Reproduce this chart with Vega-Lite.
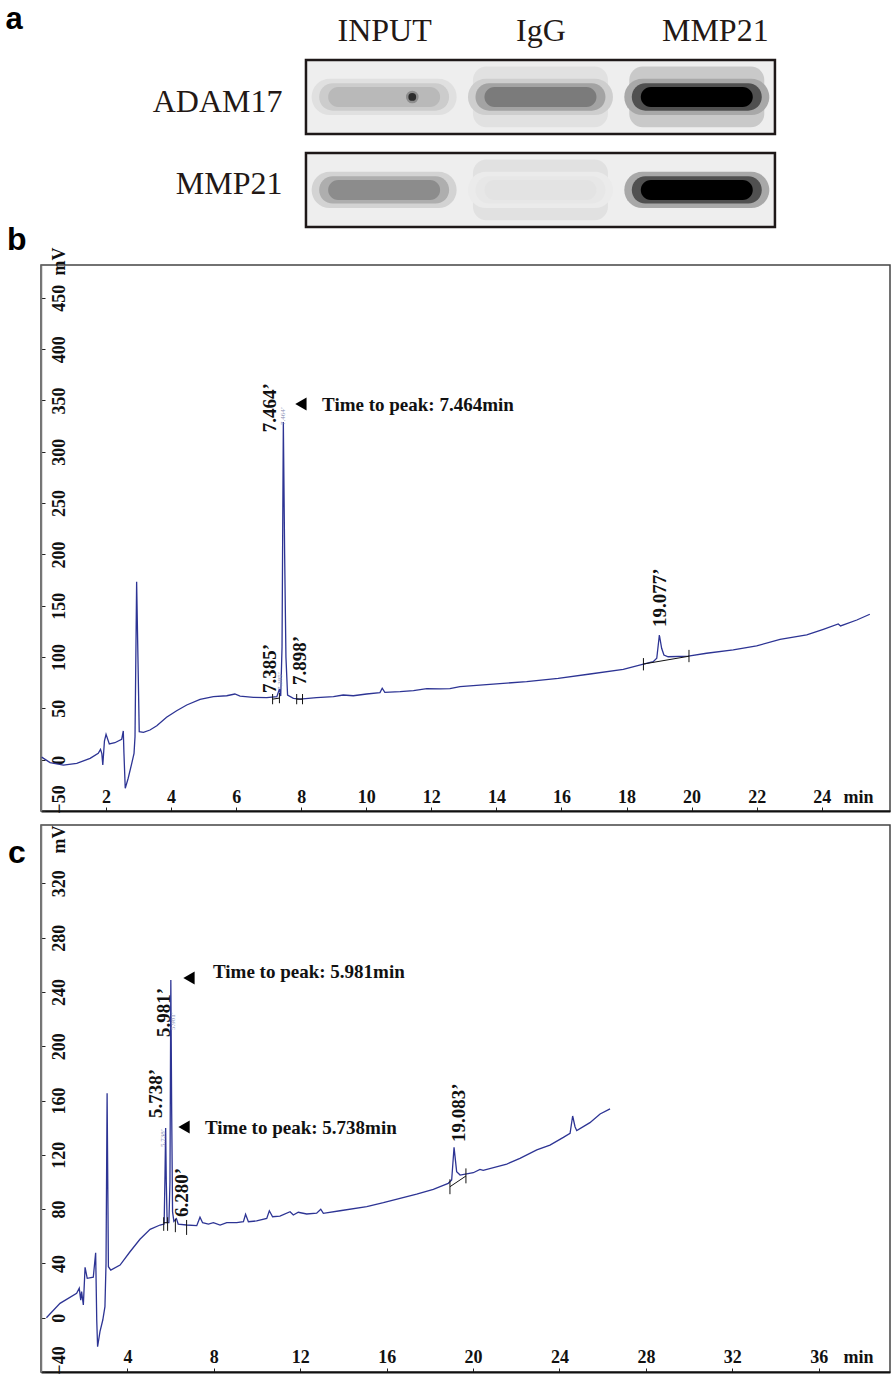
{
  "$schema": "https://vega.github.io/schema/vega-lite/v6.json",
  "padding": {"left": 5, "top": 0, "right": 4, "bottom": 1},
  "background": "white",
  "bounds": "flush",
  "spacing": 14,
  "resolve": {"scale": {"x": "independent", "y": "independent"}},
  "config": {
    "view": {"stroke": "#444444", "strokeWidth": 1.5},
    "axis": {"grid": false, "labelOverlap": false, "labelFlush": false, "labelFont": "Liberation Serif", "labelFontWeight": "bold", "labelFontSize": 18, "labelColor": "#111111", "titleFont": "Liberation Serif", "titleFontWeight": "bold", "titleFontSize": 18, "titleColor": "#111111", "tickColor": "#222222", "tickWidth": 1}
  },
  "datasets": {
    "blot_boxes": [{"protein": "ADAM17"}, {"protein": "MMP21"}],
    "blot_haze": [
      {"protein": "ADAM17", "lane": 3, "intensity": 0.14},
      {"protein": "ADAM17", "lane": 2, "intensity": 0.05},
      {"protein": "MMP21", "lane": 2, "intensity": 0.05}
    ],
    "blot_bands": [
      {"protein": "ADAM17", "lane": 1, "intensity": 0.2},
      {"protein": "ADAM17", "lane": 2, "intensity": 0.45},
      {"protein": "ADAM17", "lane": 3, "intensity": 1.0},
      {"protein": "MMP21", "lane": 1, "intensity": 0.38},
      {"protein": "MMP21", "lane": 2, "intensity": 0.04},
      {"protein": "MMP21", "lane": 3, "intensity": 1.0}
    ],
    "blot_spots": [{"protein": "ADAM17", "lane": 1.18, "intensity": 0.9}],
    "b_trace": [
      {"t": 0.02, "v": 2.5}, {"t": 0.28, "v": -2.9}, {"t": 0.69, "v": -5.2}, {"t": 1.1, "v": -3.5}, {"t": 1.51, "v": 1.3},
      {"t": 1.76, "v": 6.2}, {"t": 1.83, "v": 10.1}, {"t": 1.87, "v": 6}, {"t": 1.9, "v": -5.2}, {"t": 1.95, "v": 18},
      {"t": 2.0, "v": 24.7}, {"t": 2.1, "v": 15.3}, {"t": 2.27, "v": 16.5}, {"t": 2.48, "v": 19.9}, {"t": 2.53, "v": 28},
      {"t": 2.55, "v": 6.2}, {"t": 2.59, "v": -27.9}, {"t": 2.68, "v": -18.1}, {"t": 2.79, "v": -3.5}, {"t": 2.86, "v": 6.2},
      {"t": 2.89, "v": 22.4}, {"t": 2.94, "v": 173.4}, {"t": 2.98, "v": 100}, {"t": 3.02, "v": 27.3}, {"t": 3.15, "v": 26.7},
      {"t": 3.35, "v": 28.9}, {"t": 3.56, "v": 33.1}, {"t": 3.86, "v": 41.3}, {"t": 4.17, "v": 47.7}, {"t": 4.48, "v": 53.3},
      {"t": 4.89, "v": 58.8}, {"t": 5.3, "v": 61.4}, {"t": 5.71, "v": 62.3}, {"t": 5.96, "v": 64}, {"t": 6.12, "v": 62},
      {"t": 6.53, "v": 60.8}, {"t": 6.94, "v": 60.4}, {"t": 7.25, "v": 61.4}, {"t": 7.33, "v": 69}, {"t": 7.37, "v": 62},
      {"t": 7.41, "v": 110}, {"t": 7.45, "v": 329}, {"t": 7.49, "v": 200}, {"t": 7.53, "v": 100}, {"t": 7.58, "v": 63},
      {"t": 7.76, "v": 59.8}, {"t": 7.96, "v": 59}, {"t": 8.47, "v": 60.4}, {"t": 8.99, "v": 61.4}, {"t": 9.29, "v": 63},
      {"t": 9.6, "v": 62.3}, {"t": 10.01, "v": 64}, {"t": 10.42, "v": 65.3}, {"t": 10.49, "v": 69.6}, {"t": 10.57, "v": 65.6},
      {"t": 11.04, "v": 66.3}, {"t": 11.45, "v": 67.3}, {"t": 11.86, "v": 69.2}, {"t": 12.27, "v": 68.9}, {"t": 12.57, "v": 69.2},
      {"t": 12.88, "v": 71.1}, {"t": 13.9, "v": 73.7}, {"t": 14.93, "v": 76}, {"t": 15.9, "v": 79.3}, {"t": 16.88, "v": 83.5},
      {"t": 17.9, "v": 88}, {"t": 18.52, "v": 93.2}, {"t": 18.82, "v": 95.5}, {"t": 18.93, "v": 98.8}, {"t": 19.01, "v": 121.5},
      {"t": 19.08, "v": 108.5}, {"t": 19.15, "v": 102}, {"t": 19.28, "v": 100.3}, {"t": 19.9, "v": 101}, {"t": 20.46, "v": 103.7},
      {"t": 21.28, "v": 106.9}, {"t": 22.0, "v": 110.8}, {"t": 22.72, "v": 117.3}, {"t": 23.54, "v": 121.5}, {"t": 24.05, "v": 127},
      {"t": 24.51, "v": 132.2}, {"t": 24.58, "v": 130.3}, {"t": 25.08, "v": 136.1}, {"t": 25.48, "v": 141.7}
    ],
    "b_segs": [
      {"t": 18.52, "v": 93.2, "t2": 19.92, "v2": 100.8},
      {"t": 18.52, "v": 87, "t2": 18.52, "v2": 99},
      {"t": 19.92, "v": 95, "t2": 19.92, "v2": 107},
      {"t": 7.12, "v": 59, "t2": 7.33, "v2": 60},
      {"t": 7.12, "v": 54, "t2": 7.12, "v2": 64},
      {"t": 7.33, "v": 55, "t2": 7.33, "v2": 65},
      {"t": 7.86, "v": 59, "t2": 8.04, "v2": 59},
      {"t": 7.86, "v": 54, "t2": 7.86, "v2": 64},
      {"t": 8.04, "v": 54, "t2": 8.04, "v2": 64}
    ],
    "b_peaks": [
      {"t": 7.04, "v": 319, "label": "7.464’"},
      {"t": 7.04, "v": 65, "label": "7.385’"},
      {"t": 7.96, "v": 72.8, "label": "7.898’"},
      {"t": 19.03, "v": 129.3, "label": "19.077’"}
    ],
    "b_tiny": [
      {"t": 7.44, "v": 326, "label": "7.464’"},
      {"t": 7.35, "v": 68, "label": "7.385’"}
    ],
    "b_notes": [{"t": 8.64, "v": 345.6, "label": "Time to peak: 7.464min"}],
    "b_arrows": [{"t": 7.99, "v": 346.6}],
    "b_panel": [{"t": -1.045, "v": 496.6, "label": "b"}],
    "c_trace": [
      {"t": 0.25, "v": 0}, {"t": 0.88, "v": 10.6}, {"t": 1.65, "v": 18}, {"t": 1.77, "v": 21.7}, {"t": 1.84, "v": 13},
      {"t": 1.88, "v": 19.2}, {"t": 1.96, "v": 9.4}, {"t": 2.04, "v": 37.1}, {"t": 2.14, "v": 29}, {"t": 2.42, "v": 29.8},
      {"t": 2.53, "v": 47.9}, {"t": 2.58, "v": -1.7}, {"t": 2.62, "v": -21.4}, {"t": 2.73, "v": -10.3}, {"t": 2.86, "v": -1.7},
      {"t": 2.96, "v": 8.1}, {"t": 3.01, "v": 40}, {"t": 3.06, "v": 165.3}, {"t": 3.12, "v": 37.6}, {"t": 3.23, "v": 35.1},
      {"t": 3.66, "v": 38.8}, {"t": 4.12, "v": 48.6}, {"t": 4.58, "v": 57.8}, {"t": 5.05, "v": 65.1}, {"t": 5.51, "v": 68.3},
      {"t": 5.7, "v": 69}, {"t": 5.74, "v": 105}, {"t": 5.77, "v": 139.8}, {"t": 5.8, "v": 100}, {"t": 5.84, "v": 70},
      {"t": 5.92, "v": 70}, {"t": 5.97, "v": 100}, {"t": 6.01, "v": 248.8}, {"t": 6.05, "v": 150}, {"t": 6.09, "v": 78},
      {"t": 6.15, "v": 71}, {"t": 6.27, "v": 73}, {"t": 6.35, "v": 69}, {"t": 6.74, "v": 68.3}, {"t": 7.21, "v": 67.8},
      {"t": 7.36, "v": 74}, {"t": 7.48, "v": 70}, {"t": 7.75, "v": 69}, {"t": 7.98, "v": 70}, {"t": 8.29, "v": 68.3},
      {"t": 8.6, "v": 70}, {"t": 9.06, "v": 70}, {"t": 9.37, "v": 70.7}, {"t": 9.47, "v": 76.2}, {"t": 9.6, "v": 70.7},
      {"t": 9.98, "v": 71.3}, {"t": 10.45, "v": 73.2}, {"t": 10.57, "v": 78.8}, {"t": 10.72, "v": 74.4}, {"t": 11.06, "v": 74.9},
      {"t": 11.53, "v": 78.1}, {"t": 11.68, "v": 75.7}, {"t": 11.91, "v": 77.7}, {"t": 12.3, "v": 76.4}, {"t": 12.76, "v": 77},
      {"t": 12.95, "v": 79.9}, {"t": 13.07, "v": 76.9}, {"t": 13.84, "v": 78.8}, {"t": 15.08, "v": 81.8}, {"t": 15.85, "v": 84.7},
      {"t": 16.62, "v": 88}, {"t": 17.39, "v": 91.1}, {"t": 18.16, "v": 94.6}, {"t": 18.62, "v": 97.5}, {"t": 18.85, "v": 99},
      {"t": 19.01, "v": 101.5}, {"t": 19.12, "v": 125.5}, {"t": 19.24, "v": 107.6}, {"t": 19.4, "v": 105.1}, {"t": 20.01, "v": 106.8},
      {"t": 20.32, "v": 109.3}, {"t": 20.47, "v": 108.5}, {"t": 21.56, "v": 113.2}, {"t": 22.17, "v": 117.4}, {"t": 22.95, "v": 123.6},
      {"t": 23.56, "v": 127.2}, {"t": 24.18, "v": 132.9}, {"t": 24.49, "v": 135.9}, {"t": 24.61, "v": 148.6}, {"t": 24.72, "v": 140.7},
      {"t": 24.8, "v": 137.8}, {"t": 25.41, "v": 143.7}, {"t": 25.88, "v": 150.1}, {"t": 26.34, "v": 153.8}
    ],
    "c_segs": [
      {"t": 18.93, "v": 96.5, "t2": 19.67, "v2": 104.4},
      {"t": 18.93, "v": 91, "t2": 18.93, "v2": 102},
      {"t": 19.67, "v": 99, "t2": 19.67, "v2": 110},
      {"t": 5.68, "v": 70, "t2": 5.86, "v2": 70},
      {"t": 5.68, "v": 64, "t2": 5.68, "v2": 74},
      {"t": 5.86, "v": 64, "t2": 5.86, "v2": 74},
      {"t": 6.22, "v": 63, "t2": 6.22, "v2": 73},
      {"t": 6.74, "v": 61, "t2": 6.74, "v2": 72}
    ],
    "c_peaks": [
      {"t": 5.69, "v": 206.8, "label": "5.981’"},
      {"t": 5.32, "v": 147.1, "label": "5.738’"},
      {"t": 6.53, "v": 74.2, "label": "6.280’"},
      {"t": 19.35, "v": 129.5, "label": "19.083’"}
    ],
    "c_tiny": [
      {"t": 6.1, "v": 212, "label": "5.981’"},
      {"t": 5.65, "v": 125.8, "label": "5.738’"}
    ],
    "c_notes": [
      {"t": 7.96, "v": 254.7, "label": "Time to peak: 5.981min"},
      {"t": 7.59, "v": 139.8, "label": "Time to peak: 5.738min"}
    ],
    "c_arrows": [{"t": 6.85, "v": 250.3}, {"t": 6.62, "v": 140.5}],
    "c_panel": [{"t": -1.528, "v": 335, "label": "c"}]
  },
  "vconcat": [
    {
      "width": 849,
      "height": 251,
      "view": {"stroke": null},
      "resolve": {"scale": {"fill": "independent"}},
      "layer": [
        {
          "data": {"name": "blot_boxes"},
          "mark": {"type": "rect", "fill": "#eeeeee", "stroke": "#1e1818", "strokeWidth": 2.5},
          "encoding": {
            "x": {"datum": 0.5, "type": "quantitative", "scale": {"domain": [-1.195, 4.236], "nice": false, "zero": false}},
            "x2": {"datum": 3.5},
            "y": {
              "field": "protein", "type": "nominal", "sort": null,
              "scale": {"type": "band", "paddingInner": 0.204, "paddingOuter": 0.4516, "align": 0.714},
              "axis": {
                "orient": "left", "domain": false, "ticks": false, "labelPadding": -241, "labelAlign": "right", "labelBaseline": "alphabetic",
                "labelFont": "Liberation Serif", "labelFontWeight": "normal", "labelFontSize": 32, "labelColor": "#231815",
                "labelOffset": {"condition": {"test": "datum.value == 'ADAM17'", "value": 15}, "value": 4},
                "title": "a", "titleAngle": 0, "titleAlign": "left", "titleBaseline": "alphabetic", "titleX": -36, "titleY": 28,
                "titleFont": "Liberation Sans", "titleFontWeight": "bold", "titleFontSize": 31, "titleColor": "#000000"
              }
            }
          }
        },
        {
          "data": {"name": "blot_haze"},
          "mark": {"type": "point", "filled": true, "opacity": 1, "strokeWidth": 0, "size": 18225, "shape": "M-0.8,-0.45L0.8,-0.45A0.2,0.2,0,0,1,1,-0.25L1,0.25A0.2,0.2,0,0,1,0.8,0.45L-0.8,0.45A0.2,0.2,0,0,1,-1,0.25L-1,-0.25A0.2,0.2,0,0,1,-0.8,-0.45Z"},
          "encoding": {
            "x": {"field": "lane", "type": "quantitative", "scale": {"domain": [-1.195, 4.236], "nice": false, "zero": false}, "axis": {
              "orient": "top", "values": [1, 2, 3], "domain": false, "ticks": false, "labelPadding": -40, "labelBaseline": "alphabetic", "labelAlign": "center",
              "labelExpr": "datum.value == 1 ? 'INPUT' : datum.value == 2 ? 'IgG' : 'MMP21'",
              "labelOffset": {"condition": {"test": "datum.value == 3", "value": 18}, "value": 0},
              "labelFont": "Liberation Serif", "labelFontWeight": "normal", "labelFontSize": 32, "labelColor": "#231815", "title": null}},
            "y": {"field": "protein", "type": "nominal", "sort": null, "scale": {"type": "band", "paddingInner": 0.204, "paddingOuter": 0.4516, "align": 0.714}},
            "fill": {"field": "intensity", "type": "quantitative", "scale": {"domain": [0, 1], "range": ["#eeeeee", "#000000"]}, "legend": null}
          }
        },
        {
          "data": {"name": "blot_bands"},
          "mark": {"type": "point", "filled": true, "opacity": 1, "strokeWidth": 0, "size": 21025, "shape": "M-0.75,-0.25L0.75,-0.25A0.25,0.25,0,0,1,0.75,0.25L-0.75,0.25A0.25,0.25,0,0,1,-0.75,-0.25Z"},
          "encoding": {
            "x": {"field": "lane", "type": "quantitative", "scale": {"domain": [-1.195, 4.236], "nice": false, "zero": false}},
            "y": {"field": "protein", "type": "nominal", "sort": null, "scale": {"type": "band", "paddingInner": 0.204, "paddingOuter": 0.4516, "align": 0.714}},
            "fill": {"field": "intensity", "type": "quantitative", "scale": {"domain": [0, 1], "range": ["#eeeeee", "#a8a8a8"]}, "legend": null}
          }
        },
        {
          "data": {"name": "blot_bands"},
          "mark": {"type": "point", "filled": true, "opacity": 1, "strokeWidth": 0, "size": 16900, "shape": "M-0.79,-0.21L0.79,-0.21A0.21,0.21,0,0,1,0.79,0.21L-0.79,0.21A0.21,0.21,0,0,1,-0.79,-0.21Z"},
          "encoding": {
            "x": {"field": "lane", "type": "quantitative", "scale": {"domain": [-1.195, 4.236], "nice": false, "zero": false}},
            "y": {"field": "protein", "type": "nominal", "sort": null, "scale": {"type": "band", "paddingInner": 0.204, "paddingOuter": 0.4516, "align": 0.714}},
            "fill": {"field": "intensity", "type": "quantitative", "scale": {"domain": [0, 1], "range": ["#eeeeee", "#505050"]}, "legend": null}
          }
        },
        {
          "data": {"name": "blot_bands"},
          "mark": {"type": "point", "filled": true, "opacity": 1, "strokeWidth": 0, "size": 12544, "shape": "M-0.821,-0.179L0.821,-0.179A0.179,0.179,0,0,1,0.821,0.179L-0.821,0.179A0.179,0.179,0,0,1,-0.821,-0.179Z"},
          "encoding": {
            "x": {"field": "lane", "type": "quantitative", "scale": {"domain": [-1.195, 4.236], "nice": false, "zero": false}},
            "y": {"field": "protein", "type": "nominal", "sort": null, "scale": {"type": "band", "paddingInner": 0.204, "paddingOuter": 0.4516, "align": 0.714}},
            "fill": {"field": "intensity", "type": "quantitative", "scale": {"domain": [0, 1], "range": ["#eeeeee", "#000000"]}, "legend": null}
          }
        },
        {
          "data": {"name": "blot_spots"},
          "mark": {"type": "point", "filled": true, "opacity": 1, "strokeWidth": 0, "size": 160, "shape": "circle"},
          "encoding": {
            "x": {"field": "lane", "type": "quantitative", "scale": {"domain": [-1.195, 4.236], "nice": false, "zero": false}},
            "y": {"field": "protein", "type": "nominal", "sort": null, "scale": {"type": "band", "paddingInner": 0.204, "paddingOuter": 0.4516, "align": 0.714}},
            "fill": {"field": "intensity", "type": "quantitative", "scale": {"domain": [0, 1], "range": ["#bdbdbd", "#888888"]}, "legend": null}
          }
        },
        {
          "data": {"name": "blot_spots"},
          "mark": {"type": "point", "filled": true, "opacity": 1, "strokeWidth": 0, "size": 60, "shape": "circle"},
          "encoding": {
            "x": {"field": "lane", "type": "quantitative", "scale": {"domain": [-1.195, 4.236], "nice": false, "zero": false}},
            "y": {"field": "protein", "type": "nominal", "sort": null, "scale": {"type": "band", "paddingInner": 0.204, "paddingOuter": 0.4516, "align": 0.714}},
            "fill": {"field": "intensity", "type": "quantitative", "scale": {"domain": [0, 1], "range": ["#eeeeee", "#1a1a1a"]}, "legend": null}
          }
        }
      ]
    },
    {
      "width": 849,
      "height": 546,
      "encoding": {
        "x": {"field": "t", "type": "quantitative", "scale": {"domain": [0, 26.1], "nice": false, "zero": false}, "axis": {
          "values": [2, 4, 6, 8, 10, 12, 14, 16, 18, 20, 22, 24], "labelAngle": 0, "labelAlign": "center", "labelBaseline": "alphabetic",
          "labelPadding": -5, "tickSize": -4, "domainColor": "#111111", "domainWidth": 2,
          "title": "min", "titleAngle": 0, "titleAlign": "center", "titleBaseline": "alphabetic", "titleX": 817, "titleY": -9}},
        "y": {"field": "v", "type": "quantitative", "scale": {"domain": [-50, 482], "nice": false, "zero": false}, "axis": {
          "values": [-50, 0, 50, 100, 150, 200, 250, 300, 350, 400, 450], "labelAngle": -90, "labelAlign": "center", "labelBaseline": "alphabetic",
          "labelPadding": -19, "tickSize": -4, "domainColor": "#777777", "domainWidth": 1.5,
          "labelOffset": {"condition": {"test": "datum.value == -50", "value": -12}, "value": 0},
          "title": "mV", "titleAngle": -90, "titleAlign": "left", "titleBaseline": "alphabetic", "titleX": 23, "titleY": 10}}
      },
      "layer": [
        {"data": {"name": "b_trace"}, "mark": {"type": "line", "color": "#2d3494", "strokeWidth": 1.3}, "encoding": {}},
        {"data": {"name": "b_segs"}, "mark": {"type": "rule", "color": "#111111", "strokeWidth": 1}, "encoding": {"x2": {"field": "t2"}, "y2": {"field": "v2"}}},
        {"data": {"name": "b_peaks"}, "mark": {"type": "text", "angle": 270, "align": "left", "baseline": "middle", "font": "Liberation Serif", "fontWeight": "bold", "fontSize": 19, "color": "#111111"}, "encoding": {"text": {"field": "label"}}},
        {"data": {"name": "b_tiny"}, "mark": {"type": "text", "angle": 270, "align": "left", "baseline": "middle", "font": "Liberation Serif", "fontSize": 7, "color": "#8a8fb5"}, "encoding": {"text": {"field": "label"}}},
        {"data": {"name": "b_notes"}, "mark": {"type": "text", "align": "left", "baseline": "middle", "font": "Liberation Serif", "fontWeight": "bold", "fontSize": 19, "color": "#111111"}, "encoding": {"text": {"field": "label"}}},
        {"data": {"name": "b_arrows"}, "mark": {"type": "point", "shape": "triangle-left", "filled": true, "opacity": 1, "color": "#000000", "size": 170}},
        {"data": {"name": "b_panel"}, "mark": {"type": "text", "align": "left", "baseline": "alphabetic", "font": "Liberation Sans", "fontWeight": "bold", "fontSize": 32, "color": "#000000"}, "encoding": {"text": {"field": "label"}}}
      ]
    },
    {
      "width": 849,
      "height": 547,
      "encoding": {
        "x": {"field": "t", "type": "quantitative", "scale": {"domain": [0, 39.3], "nice": false, "zero": false}, "axis": {
          "values": [4, 8, 12, 16, 20, 24, 28, 32, 36], "labelAngle": 0, "labelAlign": "center", "labelBaseline": "alphabetic",
          "labelPadding": -6, "tickSize": -4, "domainColor": "#111111", "domainWidth": 2,
          "title": "min", "titleAngle": 0, "titleAlign": "center", "titleBaseline": "alphabetic", "titleX": 817, "titleY": -10}},
        "y": {"field": "v", "type": "quantitative", "scale": {"domain": [-40, 363], "nice": false, "zero": false}, "axis": {
          "values": [-40, 0, 40, 80, 120, 160, 200, 240, 280, 320], "labelAngle": -90, "labelAlign": "center", "labelBaseline": "alphabetic",
          "labelPadding": -19, "tickSize": -4, "domainColor": "#777777", "domainWidth": 1.5,
          "labelOffset": {"condition": {"test": "datum.value == -40", "value": -12}, "value": 0},
          "title": "mV", "titleAngle": -90, "titleAlign": "left", "titleBaseline": "alphabetic", "titleX": 23, "titleY": 28}}
      },
      "layer": [
        {"data": {"name": "c_trace"}, "mark": {"type": "line", "color": "#2d3494", "strokeWidth": 1.3}, "encoding": {}},
        {"data": {"name": "c_segs"}, "mark": {"type": "rule", "color": "#111111", "strokeWidth": 1}, "encoding": {"x2": {"field": "t2"}, "y2": {"field": "v2"}}},
        {"data": {"name": "c_peaks"}, "mark": {"type": "text", "angle": 270, "align": "left", "baseline": "middle", "font": "Liberation Serif", "fontWeight": "bold", "fontSize": 19, "color": "#111111"}, "encoding": {"text": {"field": "label"}}},
        {"data": {"name": "c_tiny"}, "mark": {"type": "text", "angle": 270, "align": "left", "baseline": "middle", "font": "Liberation Serif", "fontSize": 7, "color": "#8a8fb5"}, "encoding": {"text": {"field": "label"}}},
        {"data": {"name": "c_notes"}, "mark": {"type": "text", "align": "left", "baseline": "middle", "font": "Liberation Serif", "fontWeight": "bold", "fontSize": 19, "color": "#111111"}, "encoding": {"text": {"field": "label"}}},
        {"data": {"name": "c_arrows"}, "mark": {"type": "point", "shape": "triangle-left", "filled": true, "opacity": 1, "color": "#000000", "size": 170}},
        {"data": {"name": "c_panel"}, "mark": {"type": "text", "align": "left", "baseline": "alphabetic", "font": "Liberation Sans", "fontWeight": "bold", "fontSize": 32, "color": "#000000"}, "encoding": {"text": {"field": "label"}}}
      ]
    }
  ]
}
